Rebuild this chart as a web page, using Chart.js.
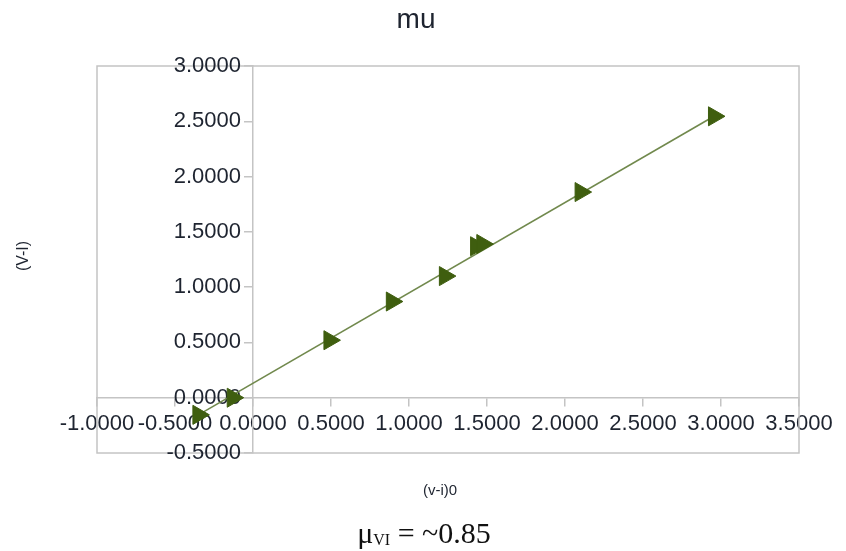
<!DOCTYPE html>
<html>
<head>
<meta charset="utf-8">
<script src="https://cdn.jsdelivr.net/npm/chart.js@4"></script>
<style>
  html, body { margin: 0; padding: 0; background: #ffffff; }
  #wrap { position: relative; width: 846px; height: 551px; }
  #note { position: absolute; left: 0; width: 846px; top: 516px; text-align: center;
          font-family: "Liberation Serif", "DejaVu Serif", serif; font-size: 30px; color: #111; }
  #note span.inner { position: relative; left: 1px; }
  #note sub { font-size: 16px; vertical-align: -2px; }
</style>
</head>
<body>
<div id="wrap">
  <canvas id="c"></canvas>
  <div id="note"><span class="inner">μ<sub>VI</sub> = ~0.85</span></div>
</div>
<script>
// ---- data ----
const titleText = 'mu';
const xAxisTitle = '(v-i)0';
const yAxisTitle = '(V-I)';
const xValues = [-0.35, -0.13, 0.49, 0.89, 1.23, 1.43, 1.47, 2.10, 2.955];
const yValues = [-0.155, 0.00, 0.52, 0.87, 1.10, 1.37, 1.39, 1.86, 2.545];
const trendX = [-0.35, 2.955];
const trendY = [-0.155, 2.545];
const xTickLabels = ['-1.0000', '-0.5000', '0.0000', '0.5000', '1.0000', '1.5000', '2.0000', '2.5000', '3.0000', '3.5000'];
const yTickLabels = ['-0.5000', '0.0000', '0.5000', '1.0000', '1.5000', '2.0000', '2.5000', '3.0000'];
const xRange = [-1, 3.5];
const yRange = [-0.5, 3];
const tickStep = 0.5;

const points = xValues.map((x, i) => ({ x: x, y: yValues[i] }));
const trend = trendX.map((x, i) => ({ x: x, y: trendY[i] }));

const GRAY = '#c4c4c4';
const TXT = '#1e2430';
const FONT = '"Liberation Sans", Arial, sans-serif';

function labelFor(list, min, v) {
  const i = Math.round((v - min) / tickStep);
  return list[i] !== undefined ? list[i] : '';
}

const decor = {
  id: 'decor',
  beforeDatasetsDraw(chart) {
    const a = chart.chartArea, ctx = chart.ctx;
    ctx.save();
    ctx.strokeStyle = GRAY;
    ctx.lineWidth = 1.5;
    ctx.strokeRect(a.left, a.top, a.right - a.left, a.bottom - a.top);
    // y tick labels, left of the y axis that crosses at x = 0
    const xs = chart.scales.x, ys = chart.scales.y;
    const axisX = xs.getPixelForValue(0);
    ctx.fillStyle = TXT;
    ctx.font = '22px ' + FONT;
    ctx.textAlign = 'right';
    ctx.textBaseline = 'middle';
    ys.ticks.forEach(t => {
      ctx.fillText(labelFor(yTickLabels, yRange[0], t.value), axisX - 12, ys.getPixelForValue(t.value));
    });
    ctx.restore();
  },
  afterDraw(chart) {
    const ctx = chart.ctx;
    ctx.save();
    ctx.fillStyle = TXT;
    ctx.textAlign = 'center';
    ctx.textBaseline = 'middle';
    ctx.font = '28px ' + FONT;
    ctx.fillText(titleText, 416, 20);
    ctx.font = '15px ' + FONT;
    ctx.fillText(xAxisTitle, 440, 491);
    ctx.translate(24, 256);
    ctx.rotate(-Math.PI / 2);
    ctx.font = '16px ' + FONT;
    ctx.fillText(yAxisTitle, 0, 0);
    ctx.restore();
  }
};

new Chart(document.getElementById('c'), {
  type: 'scatter',
  data: {
    datasets: [
      {
        label: 'data',
        data: points,
        pointStyle: 'triangle',
        rotation: 90,
        radius: 11,
        hoverRadius: 11,
        backgroundColor: '#3f5e0f',
        borderColor: '#3f5e0f',
        borderWidth: 1,
        showLine: false
      },
      {
        label: 'trend',
        data: trend,
        showLine: true,
        pointRadius: 0,
        borderColor: '#71894d',
        borderWidth: 1.6,
        fill: false
      }
    ]
  },
  options: {
    responsive: true,
    maintainAspectRatio: false,
    animation: false,
    layout: { padding: { left: 97, right: 47, top: 66, bottom: 98 } },
    plugins: {
      legend: { display: false },
      tooltip: { enabled: false },
      title: { display: false }
    },
    scales: {
      x: {
        type: 'linear',
        position: { y: 0 },
        min: xRange[0], max: xRange[1],
        border: { display: true, color: GRAY, width: 1.5 },
        grid: { display: true, drawOnChartArea: false, drawTicks: true, tickLength: 8, color: GRAY, lineWidth: 1.5 },
        ticks: {
          stepSize: tickStep,
          color: TXT,
          padding: 5,
          maxRotation: 0,
          autoSkip: false,
          font: { family: FONT, size: 22 },
          callback: (v) => labelFor(xTickLabels, xRange[0], v)
        }
      },
      y: {
        type: 'linear',
        position: { x: 0 },
        min: yRange[0], max: yRange[1],
        border: { display: true, color: GRAY, width: 1.5 },
        grid: { display: true, drawOnChartArea: false, drawTicks: true, tickLength: 8, color: GRAY, lineWidth: 1.5 },
        ticks: {
          stepSize: tickStep,
          autoSkip: false,
          color: 'rgba(0,0,0,0)',
          font: { family: FONT, size: 22 },
          callback: (v) => labelFor(yTickLabels, yRange[0], v)
        }
      }
    }
  },
  plugins: [decor]
});
</script>
</body>
</html>
